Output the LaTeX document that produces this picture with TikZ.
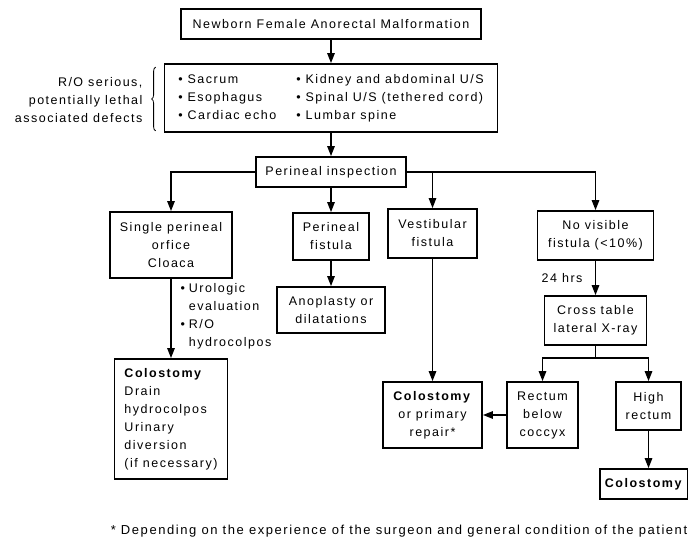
\documentclass[tikz,border=0pt]{standalone}
\usepackage{fontspec}
\setmainfont{Liberation Sans}[LetterSpace=12]
\usetikzlibrary{positioning,arrows.meta,decorations.pathreplacing}

\begin{document}
\begin{tikzpicture}[x=1pt, y=-1pt,
    box/.style={draw, line width=1.8pt, align=center, inner sep=2pt, font=\fontsize{12.5}{18}\selectfont},
    txt/.style={font=\fontsize{12.5}{18}\selectfont},
    arr/.style={line width=1.4pt, -{Triangle[length=10pt,width=7.5pt]}},
    link/.style={line width=1.4pt}]
    \useasboundingbox (0,0) rectangle (688,540);

    % Top of the chart
    \node[box, minimum width=300, minimum height=30] (newborn) at (331,24) {Newborn Female Anorectal Malformation};
    \node[box, minimum width=333, minimum height=68] (defects) at (331,98) {%
        \begin{tabular}{@{}p{118pt}@{}l@{}}
        • Sacrum & • Kidney and abdominal U/S\\
        • Esophagus & • Spinal U/S (tethered cord)\\
        • Cardiac echo & • Lumbar spine
        \end{tabular}};
    \node[txt, align=right, anchor=east] (roLabel) at (146,100) {R/O serious,\\potentially lethal\\associated defects};
    \draw[line width=0.8pt, decorate, decoration={brace, amplitude=4pt}]
        ([xshift=-8pt,yshift=2pt]defects.south west) -- ([xshift=-8pt,yshift=-4pt]defects.north west);
    \node[box, minimum width=150, minimum height=30] (inspect) at (331,172) {Perineal inspection};

    % Second row
    \node[box, minimum width=122, minimum height=66] (cloaca) at (171,245) {Single perineal\\orfice\\Cloaca};
    \node[box, minimum width=76, minimum height=47] (perfist) at (331,236.5) {Perineal\\fistula};
    \node[box, minimum width=89, minimum height=49] (vestib) at (432.5,233.5) {Vestibular\\fistula};
    \node[box, minimum width=116, minimum height=49] (novis) at (595.5,235.5) {No visible\\fistula (<10\%)};

    % Third row
    \node[box, minimum width=108, minimum height=46] (anoplasty) at (331,310) {Anoplasty or\\dilatations};
    \node[txt, anchor=west] (uroLabel) at (177,316) {%
        \begin{tabular}{@{}l@{\hspace{4pt}}l@{}}
        • & Urologic\\ & evaluation\\ • & R/O\\ & hydrocolpos
        \end{tabular}};
    \node[box, minimum width=102, minimum height=49] (crosstab) at (595.5,320.5) {Cross table\\lateral X-ray};

    % Bottom row
    \node[box, align=left, minimum width=113, minimum height=120] (colLeft) at (171,419)
        {\textbf{Colostomy}\\Drain\\hydrocolpos\\Urinary\\diversion\\(if necessary)};
    \node[box, minimum width=99, minimum height=66] (colRepair) at (432.5,415) {\textbf{Colostomy}\\or primary\\repair*};
    \node[box, minimum width=71, minimum height=66] (rectLow) at (542.5,415) {Rectum\\below\\coccyx};
    \node[box, minimum width=65, minimum height=48] (rectHigh) at (648.5,406) {High\\rectum};
    \node[box, minimum width=88, minimum height=30] (colRight) at (644,484) {\textbf{Colostomy}};

    \node[font=\fontsize{13}{18}\selectfont] (footnote) at (399,531) {* Depending on the experience of the surgeon and general condition of the patient};

    % Connectors
    \draw[arr] (newborn) -- (defects);
    \draw[arr] (defects) -- (inspect);
    \draw[arr] (inspect.west) -| (cloaca.north);
    \draw[arr] (inspect.east) -| (novis.north);
    \draw[arr] (inspect) -- (perfist);
    \draw[arr] (vestib.north |- inspect.east) -- (vestib.north);
    \draw[arr] (perfist) -- (anoplasty);
    \draw[arr] (cloaca) -- (colLeft);
    \draw[arr] (vestib) -- (colRepair);
    \draw[arr] (novis) -- node[txt, left=9pt] (hrsLabel) {24 hrs} (crosstab);
    \coordinate (split) at ([yshift=-12pt]crosstab.south);
    \draw[link] (crosstab.south) -- (split);
    \foreach \target in {rectLow, rectHigh}
        \draw[arr] (split) -| (\target.north);
    \draw[arr] (rectLow) -- (colRepair);
    \draw[arr] (rectHigh.south) -- (rectHigh.south |- colRight.north);
\end{tikzpicture}
\end{document}
